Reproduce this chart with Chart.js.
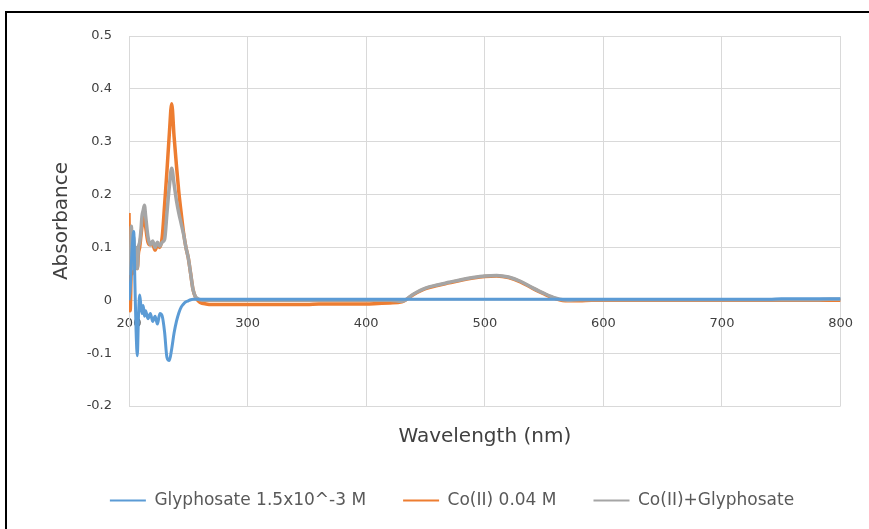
<!DOCTYPE html>
<html>
<head>
<meta charset="utf-8">
<script src="https://cdn.jsdelivr.net/npm/chart.js@4.4.1/dist/chart.umd.min.js"></script>
<style>
  body { margin: 0; background: #fff; width: 869px; height: 529px; overflow: hidden; position: relative; }
  #wrap { position: absolute; left: 0; top: 0; width: 869px; height: 529px; }
  #frame { position: absolute; left: 5px; top: 11px; right: -10px; bottom: -10px;
           border-left: 2px solid #000; border-top: 2px solid #000; pointer-events: none; }
</style>
</head>
<body>
<div id="wrap"><canvas id="spectra" width="869" height="529"></canvas></div>
<div id="frame"></div>
<script>
// UV-Vis spectra, absorbance vs wavelength (nm)
var wavelength = [
  200, 201, 202, 203, 204, 205, 206, 207, 208, 209, 210, 211, 212, 213, 214,
  216, 218, 220, 222, 224, 226, 228, 230, 232, 234, 236, 238, 240, 242, 244, 246, 248, 250, 252, 254, 256, 258, 260,
  265, 270, 280, 290, 300, 310, 320, 330, 340, 350, 360, 370, 380, 390, 400, 410, 420,
  430, 440, 450, 460, 470, 480, 490, 500, 510, 520, 530, 540, 550, 560, 570,
  580, 590, 600, 610, 620, 630, 640, 650, 660, 670, 680, 690, 700, 710, 720, 730, 740, 750, 760, 770, 780, 790, 800
];

var glyphosate = [
  0.000, 0.020, 0.070, 0.110, 0.130, 0.030, -0.060, -0.105, -0.030, 0.010, -0.010, -0.025, -0.010, -0.030, -0.020,
  -0.035, -0.025, -0.040, -0.030, -0.045, -0.025, -0.030, -0.060, -0.108, -0.114, -0.092, -0.062, -0.040, -0.024, -0.013, -0.007, -0.003, -0.001, 0.001, 0.002, 0.002, 0.002, 0.002,
  0.002, 0.002, 0.002, 0.002, 0.002, 0.002, 0.002, 0.002, 0.002, 0.002, 0.002, 0.002, 0.002, 0.002, 0.002, 0.002, 0.002,
  0.002, 0.002, 0.002, 0.002, 0.002, 0.002, 0.002, 0.002, 0.002, 0.002, 0.002, 0.002, 0.002, 0.002, 0.002,
  0.002, 0.002, 0.002, 0.002, 0.002, 0.002, 0.002, 0.002, 0.002, 0.002, 0.002, 0.002, 0.002, 0.002, 0.002, 0.002, 0.002, 0.003, 0.003, 0.003, 0.003, 0.003, 0.003
];

var cobalt = [
  0.165, -0.020, 0.060, 0.050, 0.100, 0.060, 0.085, 0.060, 0.090, 0.100, 0.120, 0.140, 0.150, 0.160, 0.140,
  0.110, 0.105, 0.105, 0.095, 0.105, 0.100, 0.120, 0.180, 0.245, 0.315, 0.372, 0.310, 0.255, 0.205, 0.165, 0.128, 0.100, 0.080, 0.050, 0.020, 0.006, 0.000, -0.004,
  -0.007, -0.008, -0.008, -0.008, -0.008, -0.008, -0.008, -0.008, -0.008, -0.008, -0.007, -0.007, -0.007, -0.007, -0.007, -0.006, -0.005,
  -0.003, 0.011, 0.022, 0.028, 0.033, 0.038, 0.042, 0.045, 0.046, 0.043, 0.035, 0.023, 0.012, 0.003, -0.001,
  -0.001, 0.000, 0.000, 0.000, 0.000, 0.000, 0.000, 0.000, 0.000, 0.000, 0.000, 0.000, 0.000, 0.000, 0.000, 0.000, 0.000, 0.000, 0.000, 0.000, 0.000, 0.000, 0.000
];

var mixture = [
  0.090, 0.050, 0.140, 0.060, 0.120, 0.070, 0.100, 0.060, 0.100, 0.110, 0.130, 0.160, 0.170, 0.180, 0.160,
  0.120, 0.105, 0.112, 0.100, 0.110, 0.102, 0.110, 0.115, 0.165, 0.215, 0.250, 0.220, 0.189, 0.165, 0.145, 0.125, 0.100, 0.080, 0.050, 0.020, 0.007, 0.003, 0.001,
  0.000, 0.000, 0.000, 0.000, 0.000, 0.000, 0.000, 0.000, 0.000, 0.000, 0.000, 0.000, 0.000, 0.000, 0.000, 0.000, 0.000,
  -0.002, 0.012, 0.023, 0.029, 0.034, 0.039, 0.043, 0.046, 0.047, 0.044, 0.036, 0.024, 0.013, 0.004, 0.000,
  0.001, 0.001, 0.001, 0.001, 0.001, 0.001, 0.001, 0.001, 0.001, 0.001, 0.001, 0.001, 0.001, 0.001, 0.001, 0.001, 0.001, 0.001, 0.001, 0.001, 0.001, 0.002, 0.002
];

var seriesNames = ['Glyphosate 1.5x10^-3 M', 'Co(II) 0.04 M', 'Co(II)+Glyphosate'];
var seriesColors = ['#5b9bd5', '#ed7d31', '#a5a5a5'];
var xTicks = [200, 300, 400, 500, 600, 700, 800];
var yTicks = [-0.2, -0.1, 0, 0.1, 0.2, 0.3, 0.4, 0.5];

function points(values) {
  return wavelength.map(function (w, i) { return { x: w, y: values[i] }; });
}

var fontFamily = 'DejaVu Sans';
var tickFont = { family: fontFamily, size: 13 };
var tickColor = '#404040';
var gridColor = '#d9d9d9';

var ctx = document.getElementById('spectra');
var chart = new Chart(ctx, {
  type: 'line',
  data: {
    datasets: [
      { label: seriesNames[0], data: points(glyphosate), borderColor: seriesColors[0], backgroundColor: seriesColors[0], borderWidth: 3, order: 0 },
      { label: seriesNames[1], data: points(cobalt), borderColor: seriesColors[1], backgroundColor: seriesColors[1], borderWidth: 3.5, order: 2 },
      { label: seriesNames[2], data: points(mixture), borderColor: seriesColors[2], backgroundColor: seriesColors[2], borderWidth: 3.5, order: 1 }
    ]
  },
  options: {
    responsive: false,
    animation: false,
    events: [],
    datasets: {
      line: { pointRadius: 0, pointStyle: 'line', cubicInterpolationMode: 'monotone', fill: false }
    },
    layout: { padding: { left: 58, right: 23, top: 36, bottom: 10 } },
    scales: {
      x: {
        type: 'linear',
        position: { y: 0 },
        min: 200,
        max: 800,
        afterBuildTicks: function (scale) { scale.ticks = xTicks.map(function (v) { return { value: v }; }); },
        grid: { color: gridColor, drawTicks: false },
        border: { color: gridColor },
        ticks: { font: tickFont, color: tickColor, padding: 16, maxRotation: 0 }
      },
      y: {
        type: 'linear',
        min: -0.2,
        max: 0.5,
        afterBuildTicks: function (scale) { scale.ticks = yTicks.map(function (v) { return { value: v }; }); },
        afterFit: function (scale) { scale.width = 129 - 58; },
        grid: { color: gridColor, drawTicks: false },
        border: { color: gridColor },
        ticks: {
          font: tickFont, color: tickColor, padding: 17,
          callback: function (v) { return String(Math.round(v * 10) / 10); }
        },
        title: {
          display: true, text: 'Absorbance', color: '#404040',
          font: { family: fontFamily, size: 20 }, padding: { top: -8, bottom: 0 }
        }
      }
    },
    plugins: {
      title: {
        display: true, text: 'Wavelength (nm)', position: 'bottom', fullSize: false, weight: 500,
        color: '#404040', font: { family: fontFamily, size: 20, weight: 'normal' },
        padding: { top: 19, bottom: 6 }
      },
      legend: {
        position: 'bottom',
        labels: {
          usePointStyle: true,
          pointStyleWidth: 36,
          padding: 37,
          color: '#595959',
          font: { family: fontFamily, size: 17 },
          generateLabels: function (c) {
            var items = Chart.defaults.plugins.legend.labels.generateLabels(c);
            items.forEach(function (it) { it.lineWidth = 2; });
            return items.sort(function (a, b) { return a.datasetIndex - b.datasetIndex; });
          }
        }
      },
      tooltip: { enabled: false }
    }
  }
});
</script>
</body>
</html>
